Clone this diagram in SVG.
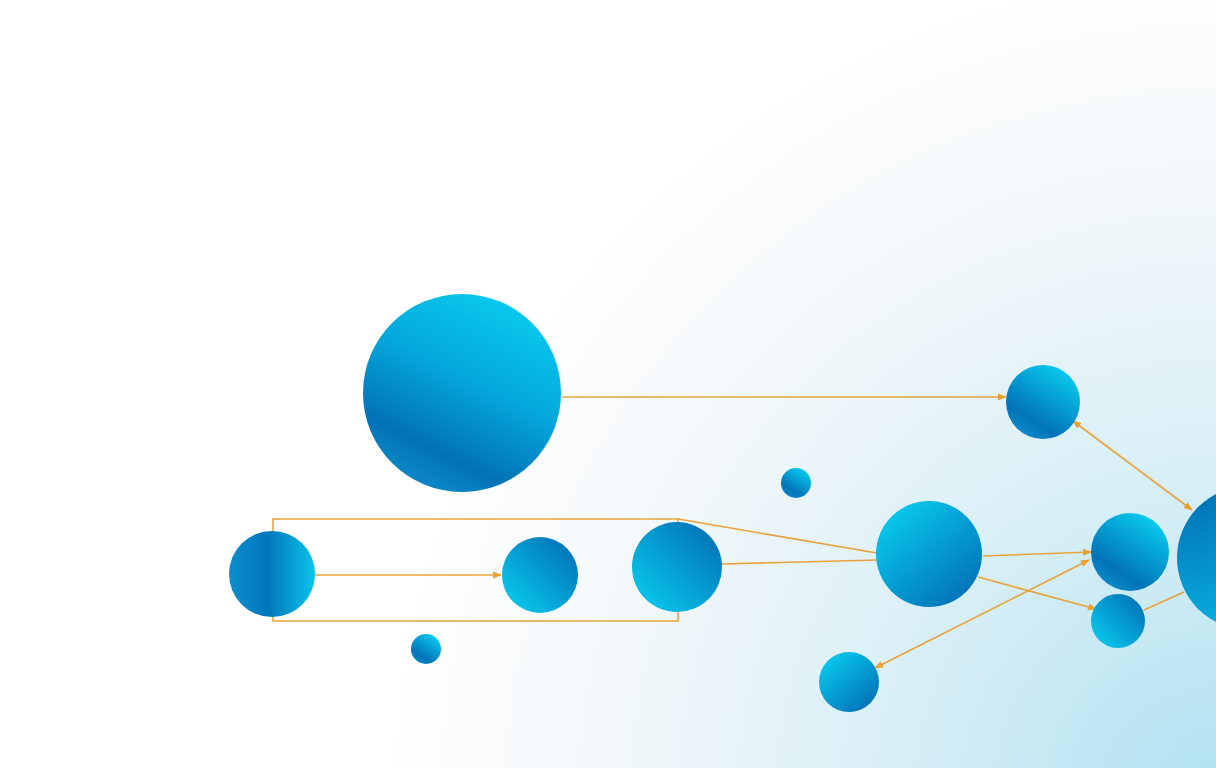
<svg xmlns="http://www.w3.org/2000/svg" width="1216" height="768" viewBox="0 0 1216 768">
<defs>
<radialGradient id="bg" cx="1216" cy="800" r="880" gradientUnits="userSpaceOnUse">
<stop offset="0" stop-color="#b0e1ef"/>
<stop offset="0.35" stop-color="#d6eef6"/>
<stop offset="0.7" stop-color="#f3f8fa"/>
<stop offset="0.95" stop-color="#ffffff"/>
</radialGradient>
<linearGradient id="gTR" x1="0.85" y1="0.1" x2="0.3" y2="0.95">
<stop offset="0" stop-color="#08cbee"/><stop offset="0.8" stop-color="#0274b8"/><stop offset="1" stop-color="#0a86c6"/>
</linearGradient>
<linearGradient id="gBig" x1="0.8" y1="0.05" x2="0.35" y2="0.95">
<stop offset="0" stop-color="#08cbee"/><stop offset="0.45" stop-color="#04a8dc"/><stop offset="0.85" stop-color="#0272b7"/><stop offset="1" stop-color="#0a84c4"/>
</linearGradient>
<linearGradient id="gBL" x1="0.1" y1="0.9" x2="0.9" y2="0.1">
<stop offset="0" stop-color="#08c8ec"/><stop offset="1" stop-color="#0273b8"/>
</linearGradient>
<linearGradient id="gH" x1="0" y1="0.5" x2="1" y2="0.5">
<stop offset="0" stop-color="#0a8ccb"/><stop offset="0.45" stop-color="#0277bb"/><stop offset="1" stop-color="#0ac4ea"/>
</linearGradient>
<linearGradient id="gTL" x1="0.15" y1="0.1" x2="0.85" y2="0.9">
<stop offset="0" stop-color="#08c8ec"/><stop offset="1" stop-color="#0273b8"/>
</linearGradient>
<linearGradient id="gV" x1="0.3" y1="0" x2="0.6" y2="1">
<stop offset="0" stop-color="#0272b7"/><stop offset="1" stop-color="#07b4e4"/>
</linearGradient>
<marker id="ah" viewBox="0 0 10 10" refX="9" refY="5" markerWidth="9" markerHeight="9" markerUnits="userSpaceOnUse" orient="auto-start-reverse">
<path d="M0,1 L10,5 L0,9 Z" fill="#e8a030"/>
</marker>
<style>
.c{stroke:#e9a23a;stroke-width:1.6;fill:none}
</style>
</defs>
<rect width="1216" height="768" fill="url(#bg)"/>
<g id="connectors">
<path class="c" d="M562,397 L1006,397" marker-end="url(#ah)"/>
<path class="c" d="M1073,421 L1192,510" marker-start="url(#ah)" marker-end="url(#ah)"/>
<path class="c" d="M315,575 L501,575" marker-end="url(#ah)"/>
<path class="c" d="M273,532 L273,519 L678,519 L678,522"/>
<path class="c" d="M273,616 L273,621 L678,621 L678,611"/>
<path class="c" d="M678,519 L877,553"/>
<path class="c" d="M722,564 L877,560"/>
<path class="c" d="M983,556 L1091,552" marker-end="url(#ah)"/>
<path class="c" d="M978,577 L1096,609" marker-end="url(#ah)"/>
<path class="c" d="M875,668 L1089,560" marker-start="url(#ah)" marker-end="url(#ah)"/>
<path class="c" d="M1144,610 L1184,592"/>
</g>
<g id="n1"><circle cx="462" cy="393" r="99" fill="url(#gBig)"/></g>
<g id="n2"><circle cx="1043" cy="402" r="37" fill="url(#gTR)"/></g>
<g id="n3"><circle cx="796" cy="483" r="15" fill="url(#gTR)"/></g>
<g id="n4"><circle cx="272" cy="574" r="43" fill="url(#gH)"/></g>
<g id="n5"><circle cx="540" cy="575" r="38" fill="url(#gBL)"/></g>
<g id="n6"><circle cx="677" cy="567" r="45" fill="url(#gBL)"/></g>
<g id="n7"><circle cx="426" cy="649" r="15" fill="url(#gTR)"/></g>
<g id="n8"><circle cx="929" cy="554" r="53" fill="url(#gTL)"/></g>
<g id="n9"><circle cx="1130" cy="552" r="39" fill="url(#gTR)"/></g>
<g id="n10"><circle cx="1118" cy="621" r="27" fill="url(#gBL)"/></g>
<g id="n11"><circle cx="849" cy="682" r="30" fill="url(#gTL)"/></g>
<g id="n12"><circle cx="1249" cy="558" r="72" fill="url(#gV)"/></g>
</svg>
